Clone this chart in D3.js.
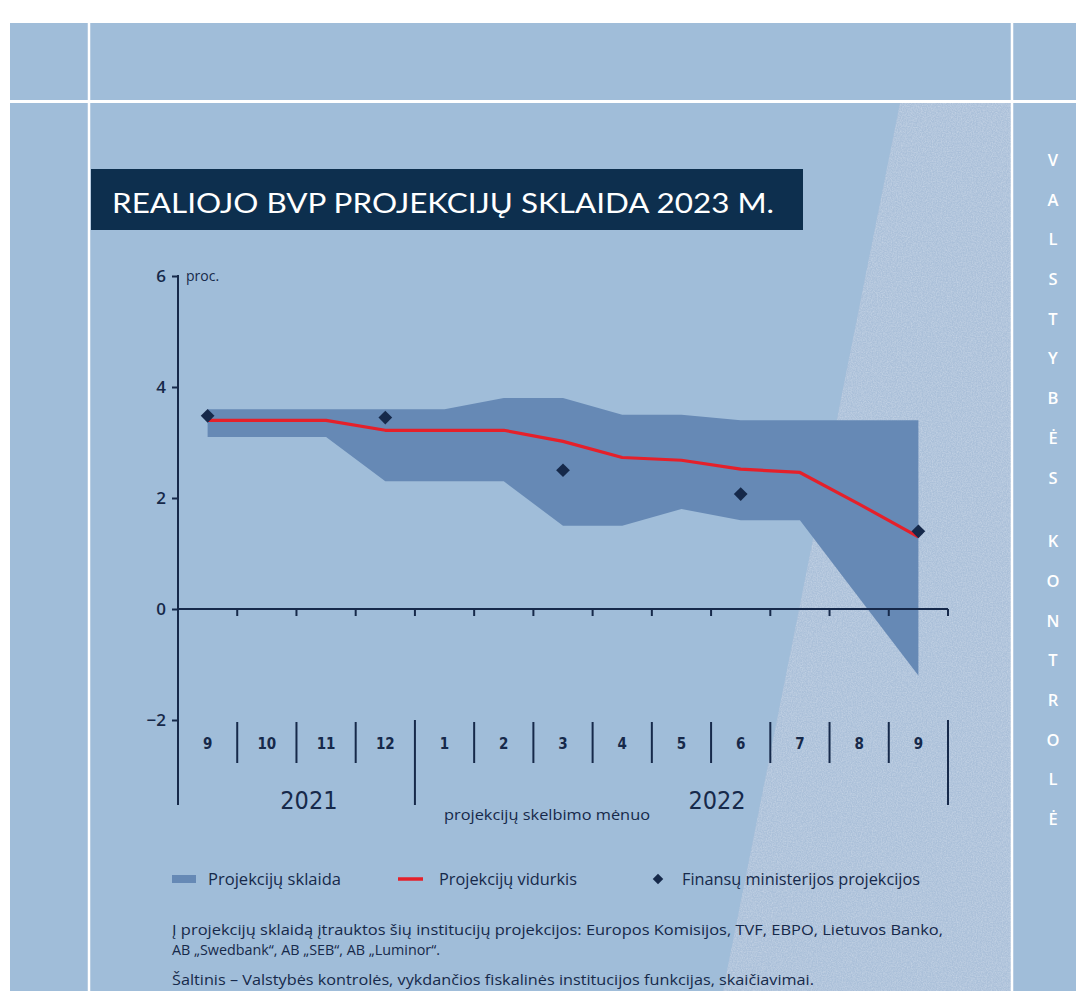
<!DOCTYPE html>
<html>
<head lang="lt">
    <meta charset="UTF-8">
    <title>Realiojo BVP projekcijų sklaida</title>
    <script src="https://d3js.org/d3.v7.min.js"></script>
    <style>
        body { margin: 0; background: #fff; }
        svg { display: block; font-family: "Open Sans", Lato, sans-serif; }
        .cond { font-family: "Liberation Sans Narrow", "DejaVu Sans Condensed", "Roboto", sans-serif; }
    </style>
</head>
<body>
<svg id="chart" width="1076" height="991"></svg>
<script>
    // data -----------------------------------------------------------
    const MONTHS = ["9", "10", "11", "12", "1", "2", "3", "4", "5", "6", "7", "8", "9"];
    const YEARS = [{label: "2021", from: 0, to: 4}, {label: "2022", from: 4, to: 13}];
    const RANGE_HIGH = [3.6, 3.6, 3.6, 3.6, 3.6, 3.8, 3.8, 3.5, 3.5, 3.4, 3.4, 3.4, 3.4];
    const RANGE_LOW  = [3.1, 3.1, 3.1, 2.3, 2.3, 2.3, 1.5, 1.5, 1.8, 1.6, 1.6, 0.2, -1.2];
    const AVERAGE    = [3.4, 3.4, 3.4, 3.22, 3.22, 3.22, 3.02, 2.73, 2.68, 2.52, 2.46, 1.89, 1.3];
    const MINFIN     = [{i: 0, v: 3.48}, {i: 3, v: 3.45}, {i: 6, v: 2.5}, {i: 9, v: 2.07}, {i: 12, v: 1.4}];
    const Y_TICKS = [-2, 0, 2, 4, 6];
    const SIDE_WORDS = ["VALSTYBĖS", "KONTROLĖ"];

    const C = {
        bg: "#a0bdd9", light: "#abc0d9", band: "#6689b5", red: "#e5202a",
        navy: "#16294a", title: "#0d2f4e"
    };

    let svg = d3.select('#chart');

    // page background, frame lines, textured wedge
    svg.append('rect').attr('x', 10).attr('y', 23).attr('width', 1066).attr('height', 968).attr('fill', C.bg);

    let defs = svg.append('defs');
    let f = defs.append('filter').attr('id', 'grain').attr('x', 0).attr('y', 0).attr('width', 1).attr('height', 1);
    f.append('feTurbulence').attr('type', 'fractalNoise').attr('baseFrequency', 0.8).attr('numOctaves', 2).attr('seed', 3).attr('result', 'n');
    f.append('feColorMatrix').attr('in', 'n').attr('type', 'matrix')
        .attr('values', '0 0 0 0 0.78  0 0 0 0 0.83  0 0 0 0 0.90  0.7 0 0 0 -0.22').attr('result', 'g');
    f.append('feComposite').attr('in', 'g').attr('in2', 'SourceGraphic').attr('operator', 'in');

    let wedge = [[900, 103], [1011, 103], [1011, 991], [723, 991]];
    svg.append('polygon').attr('points', wedge.join(' ')).attr('fill', C.light);
    svg.append('polygon').attr('points', wedge.join(' ')).attr('fill', '#000').attr('filter', 'url(#grain)');

    svg.append('line').attr('x1', 89).attr('x2', 89).attr('y1', 23).attr('y2', 991).attr('stroke', '#fff').attr('stroke-width', 2.5);
    svg.append('line').attr('x1', 1012).attr('x2', 1012).attr('y1', 23).attr('y2', 991).attr('stroke', '#fff').attr('stroke-width', 2.5);
    svg.append('line').attr('x1', 10).attr('x2', 1076).attr('y1', 101.5).attr('y2', 101.5).attr('stroke', '#fff').attr('stroke-width', 3);

    // title
    svg.append('rect').attr('x', 91).attr('y', 169).attr('width', 712).attr('height', 61).attr('fill', C.title);
    svg.append('text').attr('x', 112).attr('y', 213).attr('fill', '#fff')
        .attr('font-size', 27).attr('font-weight', 400)
        .style('font-family', 'Lato, sans-serif')
        .attr('textLength', 662).attr('lengthAdjust', 'spacingAndGlyphs')
        .text('REALIOJO BVP PROJEKCIJŲ SKLAIDA 2023 M.');

    // side text
    let sideY = 160;
    SIDE_WORDS.forEach((w, wi) => {
        if (wi > 0) sideY += 24;
        Array.from(w).forEach(ch => {
            svg.append('text').attr('x', 1053).attr('y', sideY).attr('dy', '0.36em')
                .attr('text-anchor', 'middle').attr('fill', '#fff')
                .attr('font-size', 16.5).attr('font-weight', 600)
                .style('font-family', '"Open Sans", sans-serif').text(ch);
            sideY += 39.7;
        });
    });

    // scales
    let x = d3.scaleBand().domain(d3.range(MONTHS.length)).range([178, 948]).padding(0);
    let cx = i => x(i) + x.bandwidth() / 2;
    let y = d3.scaleLinear().domain([-2, 6]).range([720, 276]);

    let g = svg.append('g');

    // spread band
    let area = d3.area().x((d, i) => cx(i)).y0((d, i) => y(RANGE_LOW[i])).y1(d => y(d));
    g.append('path').datum(RANGE_HIGH).attr('d', area).attr('fill', C.band);

    // x axis at zero
    g.append('line').attr('x1', 178).attr('x2', 948).attr('y1', y(0)).attr('y2', y(0))
        .attr('stroke', C.navy).attr('stroke-width', 2);
    g.selectAll('.xt').data(d3.range(1, MONTHS.length + 1)).enter().append('line')
        .attr('class', 'xt')
        .attr('x1', i => x.range()[0] + i * x.bandwidth()).attr('x2', i => x.range()[0] + i * x.bandwidth())
        .attr('y1', y(0)).attr('y2', y(0) + 7)
        .attr('stroke', C.navy).attr('stroke-width', 2);

    // y axis
    let yAxis = g.append('g').attr('transform', 'translate(178,0)')
        .call(d3.axisLeft(y).tickValues(Y_TICKS).tickSize(6).tickPadding(6)
            .tickFormat(d => d < 0 ? '−' + Math.abs(d) : d));
    yAxis.select('.domain').remove();
    yAxis.selectAll('line').attr('stroke', C.navy).attr('stroke-width', 2);
    yAxis.selectAll('text').attr('fill', C.navy).attr('font-size', 17).attr('font-weight', 600)
        .style('font-family', '"Open Sans", sans-serif');
    g.append('line').attr('x1', 178).attr('x2', 178).attr('y1', y(6) - 1).attr('y2', 805)
        .attr('stroke', C.navy).attr('stroke-width', 2);
    g.append('text').attr('x', 186).attr('y', y(6) + 5).attr('fill', C.navy)
        .attr('font-size', 14).attr('font-weight', 500).text('proc.');

    // average line
    let line = d3.line().x((d, i) => cx(i)).y(d => y(d));
    g.append('path').datum(AVERAGE).attr('d', line).attr('fill', 'none')
        .attr('stroke', C.red).attr('stroke-width', 3.2).attr('stroke-linejoin', 'round');

    // finance ministry points
    let diamond = d3.symbol().type(d3.symbolDiamond2).size(120);
    g.selectAll('.dm').data(MINFIN).enter().append('path')
        .attr('class', 'dm').attr('d', diamond)
        .attr('transform', d => `translate(${cx(d.i)},${y(d.v)})`)
        .attr('fill', C.navy);

    // month labels + separators
    g.selectAll('.ml').data(MONTHS).enter().append('text')
        .attr('class', 'ml cond')
        .attr('x', (d, i) => cx(i)).attr('y', 744).attr('dy', '0.35em')
        .attr('text-anchor', 'middle').attr('fill', C.navy).attr('font-size', 15).attr('font-weight', 700)
        .text(d => d);
    let yearEdges = new Set(YEARS.map(d => d.from).concat([MONTHS.length]));
    g.selectAll('.sep').data(d3.range(1, MONTHS.length + 1)).enter().append('line')
        .attr('class', 'sep')
        .attr('x1', i => x.range()[0] + i * x.bandwidth()).attr('x2', i => x.range()[0] + i * x.bandwidth())
        .attr('y1', i => yearEdges.has(i) ? 720 : 722)
        .attr('y2', i => yearEdges.has(i) ? 805 : 763)
        .attr('stroke', C.navy).attr('stroke-width', 2);

    // year labels
    let yearX = d3.scaleLinear().domain([0, 1]).range([cx(0), cx(1)]);
    const YEAR_POS = [1.71, 8.6];
    g.selectAll('.yl').data(YEARS).enter().append('text')
        .attr('class', 'yl cond')
        .attr('x', (d, i) => yearX(YEAR_POS[i])).attr('y', 800).attr('dy', '0.35em')
        .attr('text-anchor', 'middle').attr('fill', C.navy).attr('font-size', 25)
        .text(d => d.label);
    g.append('text').attr('x', 547).attr('y', 815).attr('dy', '0.35em')
        .attr('text-anchor', 'middle').attr('fill', C.navy).attr('font-size', 15).attr('font-weight', 500)
        .attr('textLength', 206).attr('lengthAdjust', 'spacingAndGlyphs')
        .text('projekcijų skelbimo mėnuo');

    // legend
    let lg = svg.append('g').attr('fill', C.navy).attr('font-size', 16).attr('font-weight', 500);
    lg.append('rect').attr('x', 172).attr('y', 875).attr('width', 24).attr('height', 8).attr('fill', C.band);
    lg.append('text').attr('x', 208).attr('y', 879).attr('dy', '0.35em')
        .attr('textLength', 133).attr('lengthAdjust', 'spacingAndGlyphs').text('Projekcijų sklaida');
    lg.append('line').attr('x1', 398).attr('x2', 423).attr('y1', 879).attr('y2', 879).attr('stroke', C.red).attr('stroke-width', 3.5);
    lg.append('text').attr('x', 439).attr('y', 879).attr('dy', '0.35em')
        .attr('textLength', 138).attr('lengthAdjust', 'spacingAndGlyphs').text('Projekcijų vidurkis');
    lg.append('path').attr('d', d3.symbol().type(d3.symbolDiamond2).size(70)).attr('transform', 'translate(658,879)');
    lg.append('text').attr('x', 682).attr('y', 879).attr('dy', '0.35em')
        .attr('textLength', 238).attr('lengthAdjust', 'spacingAndGlyphs').text('Finansų ministerijos projekcijos');

    // notes
    let notes = svg.append('g').attr('fill', C.navy).attr('font-size', 14.5).attr('font-weight', 500);
    notes.append('text').attr('x', 172).attr('y', 935)
        .attr('textLength', 771).attr('lengthAdjust', 'spacingAndGlyphs')
        .text('Į projekcijų sklaidą įtrauktos šių institucijų projekcijos: Europos Komisijos, TVF, EBPO, Lietuvos Banko,');
    notes.append('text').attr('x', 172).attr('y', 955)
        .attr('textLength', 268).attr('lengthAdjust', 'spacingAndGlyphs')
        .text('AB „Swedbank“, AB „SEB“, AB „Luminor“.');
    notes.append('text').attr('x', 172).attr('y', 985)
        .attr('textLength', 642).attr('lengthAdjust', 'spacingAndGlyphs')
        .text('Šaltinis – Valstybės kontrolės, vykdančios fiskalinės institucijos funkcijas, skaičiavimai.');
</script>
</body>
</html>
